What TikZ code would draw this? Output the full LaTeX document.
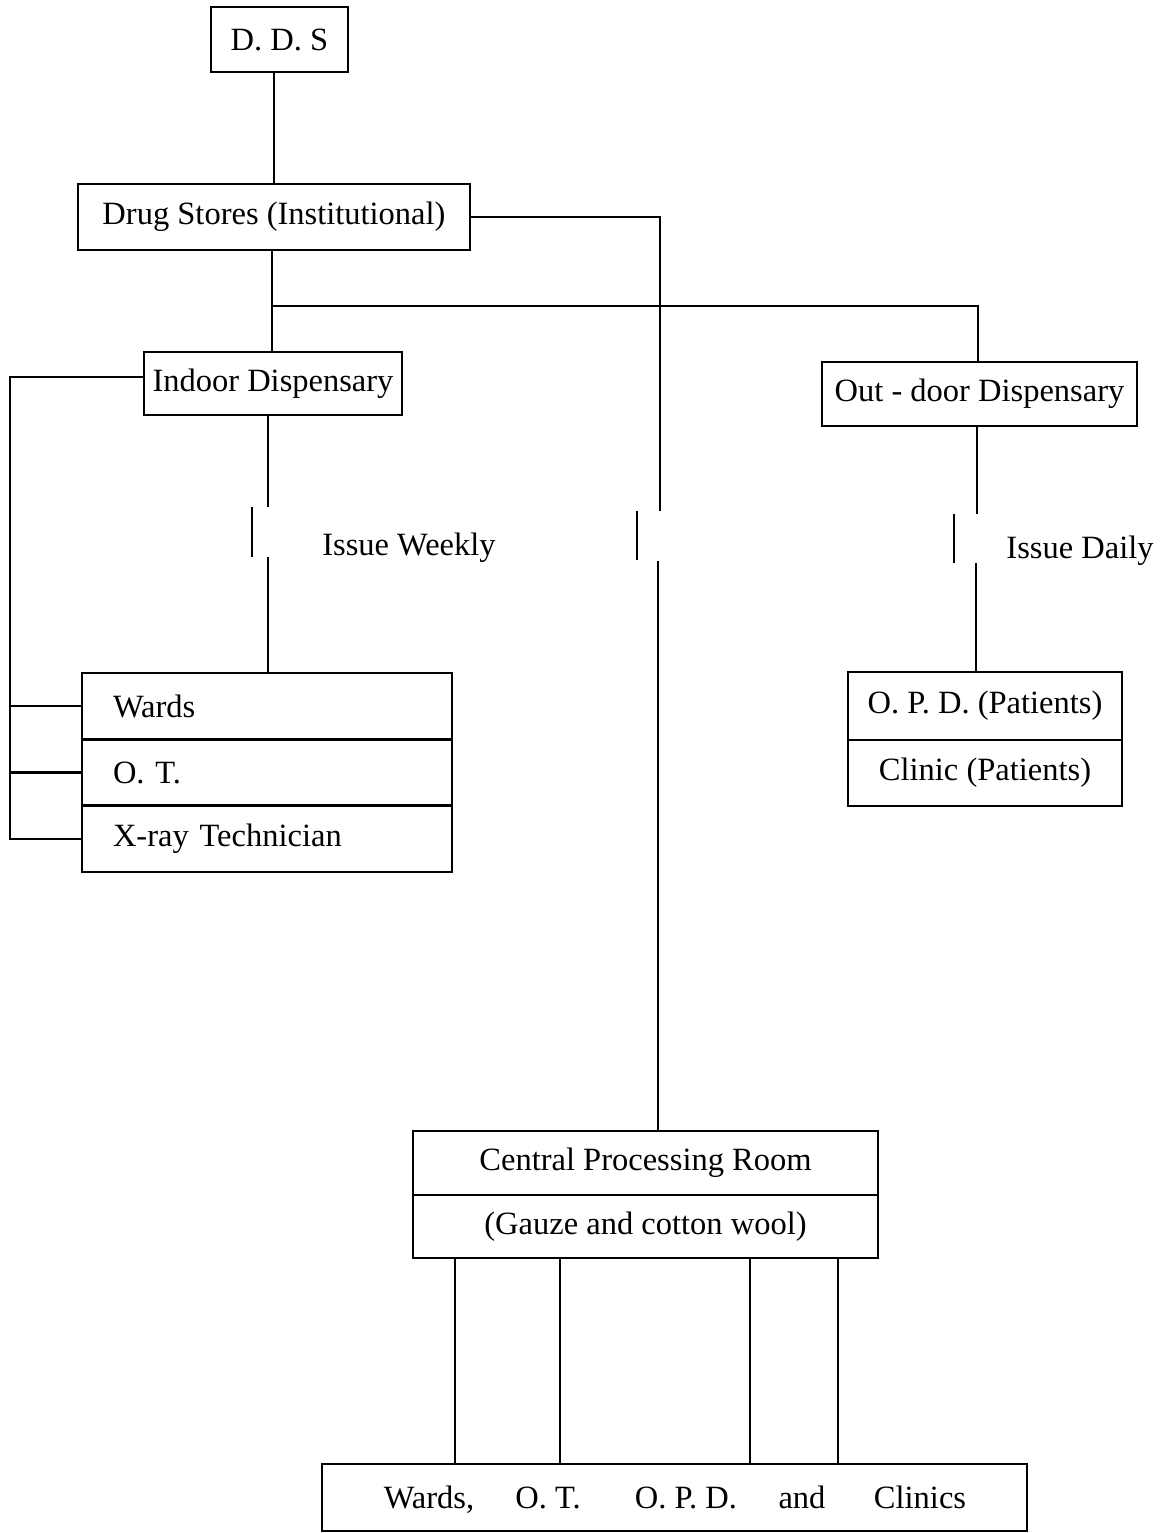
\documentclass[tikz,border=0pt]{standalone}
\usepackage{fontspec}
\setmainfont{Liberation Serif}
\begin{document}
\begin{tikzpicture}[x=1pt,y=-1pt,
  every node/.style={font=\fontsize{32.5}{38}\selectfont},
  box/.style={draw, line width=2.4pt, inner sep=0pt},
  lbox/.style={box, inner xsep=31pt, text width=308pt, align=left, minimum height=66.33pt},
  conn/.style={line width=2.4pt},
  lbl/.style={inner sep=0pt},
  wordlbl/.style={inner sep=0pt, anchor=base}]
\useasboundingbox (0,0) rectangle (1162,1533);
\fill[white] (0,0) rectangle (1162,1533);

% top of the hierarchy
\node[box, minimum width=137pt, minimum height=65pt] (dds) at (279.5,39.5) {D. D. S};
\node[box, minimum width=392pt, minimum height=66pt] (drug) at (274,217) {Drug Stores (Institutional)};

% dispensaries
\node[box, minimum width=258pt, minimum height=63pt] (indoor) at (273,383.5) {Indoor Dispensary};
\node[box, minimum width=315pt, minimum height=64pt] (outdoor) at (979.5,394) {Out - door Dispensary};

% indoor recipients
\node[lbox] (wards) at (267,706.2) {Wards};
\node[lbox] (ot) at (267,772.5) {O. T.};
\node[lbox] (xray) at (267,838.8) {X-ray Technician};

% out-door recipients
\node[box, minimum width=274pt, minimum height=68pt] (opd) at (985,706) {O. P. D. (Patients)};
\node[box, minimum width=274pt, minimum height=66pt] (clinic) at (985,773) {Clinic (Patients)};

% central processing room
\node[box, minimum width=465pt, minimum height=64pt] (cpr) at (645.5,1163) {Central Processing Room};
\node[box, minimum width=465pt, minimum height=63pt] (gauze) at (645.5,1226.5) {(Gauze and cotton wool)};

% final destinations
\node[box, minimum width=705pt, minimum height=67pt] (dest) at (674.5,1497.5) {};
\node[wordlbl] (dw) at (429,1508) {Wards,};
\node[wordlbl] (dot) at (548,1508) {O. T.};
\node[wordlbl] (dopd) at (686,1508) {O. P. D.};
\node[wordlbl] (dand) at (802,1508) {and};
\node[wordlbl] (dcl) at (920,1508) {Clinics};

% issue labels
\node[lbl] (weekly) at (409,548) {Issue Weekly};
\node[lbl] (daily) at (1080,551) {Issue Daily};

% break-mark coordinates
\coordinate (cb1) at (660,511);
\coordinate (cb2) at (637,511);
\coordinate (cb3) at (637,560);
\coordinate (cb4) at (658,561);
\coordinate (ib1) at (268,507);
\coordinate (ib2) at (252,507);
\coordinate (ib3) at (252,557);
\coordinate (ib4) at (268,557);
\coordinate (ob1) at (977,514);
\coordinate (ob2) at (954,514);
\coordinate (ob3) at (954,563);
\coordinate (ob4) at (976,563);
\coordinate (split) at (272,306);
\coordinate (ltop) at (10,377);
\coordinate (lbot) at (10,838.8);

% connectors
\draw[conn] (dds.south -| drug.north) -- (drug.north);
\draw[conn] (drug.east) -| (cb1);
\draw[conn] (cb2) -- (cb3);
\draw[conn] (cb4) -- (cb4 |- cpr.north);
\draw[conn] (drug.south -| split) -- (indoor.north -| split);
\draw[conn] (split) -| (outdoor.north -| 978,0);

% indoor branch
\draw[conn] (indoor.south -| ib1) -- (ib1);
\draw[conn] (ib2) -- (ib3);
\draw[conn] (ib4) -- (wards.north -| ib4);
\draw[conn] (indoor.west |- ltop) -- (ltop) -- (lbot) -- (xray.west);
\draw[conn] (wards.west) -- (wards.west -| lbot);
\draw[conn] (ot.west) -- (ot.west -| lbot);

% out-door branch
\draw[conn] (outdoor.south -| ob1) -- (ob1);
\draw[conn] (ob2) -- (ob3);
\draw[conn] (ob4) -- (opd.north -| ob4);

% distribution from the processing room
\foreach \xx in {455,560,750,838}
  \draw[conn] (gauze.south -| \xx,0) -- (dest.north -| \xx,0);
\end{tikzpicture}
\end{document}
